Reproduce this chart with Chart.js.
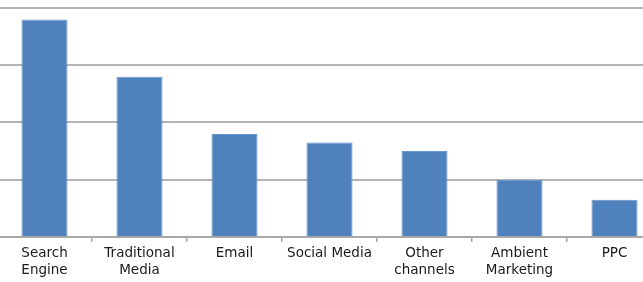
<!DOCTYPE html>
<html lang="en">
<head>
    <meta charset="UTF-8">
    <title>Marketing channels</title>
    <script src="https://cdn.jsdelivr.net/npm/chart.js"></script>
    <style>
        html, body {
            margin: 0;
            padding: 0;
            background: #ffffff;
            overflow: hidden;
        }

        #wrap {
            position: absolute;
            left: -3px;
            top: 0;
            width: 665px;
            height: 282px;
        }
    </style>
</head>
<body>
    <div id="wrap">
        <canvas id="barChart" width="665" height="282"></canvas>
    </div>

    <script>
        // data
        const categories = [
            ['Search', 'Engine'],
            ['Traditional', 'Media'],
            'Email',
            'Social Media',
            ['Other', 'channels'],
            ['Ambient', 'Marketing'],
            'PPC'
        ];
        const values = [38, 28, 18, 16.5, 15, 10, 6.5];
        const yMin = 0;
        const yMax = 40;
        const yStep = 10;

        const ctx = document.getElementById('barChart').getContext('2d');
        new Chart(ctx, {
            type: 'bar',
            data: {
                labels: categories,
                datasets: [{
                    data: values,
                    backgroundColor: '#4f81bd',
                    borderColor: '#6b96cb',
                    borderWidth: 1,
                    categoryPercentage: 1,
                    barPercentage: 0.485
                }]
            },
            options: {
                responsive: false,
                animation: false,
                layout: {
                    padding: { top: 8, bottom: 0, left: 0, right: 0 }
                },
                plugins: {
                    legend: { display: false },
                    tooltip: { enabled: false }
                },
                scales: {
                    x: {
                        grid: {
                            offset: true,
                            drawOnChartArea: false,
                            drawTicks: true,
                            tickLength: 5,
                            color: '#a4a4a4',
                            lineWidth: 1.5
                        },
                        border: { color: '#a4a4a4', width: 1.5 },
                        ticks: {
                            autoSkip: false,
                            maxRotation: 0,
                            padding: 3,
                            color: '#1a1a1a',
                            font: { family: 'DejaVu Sans', size: 13.5, lineHeight: 1.26 }
                        }
                    },
                    y: {
                        min: yMin,
                        max: yMax,
                        ticks: { display: false, stepSize: yStep },
                        grid: {
                            drawTicks: false,
                            color: '#b4b4b4',
                            lineWidth: 2
                        },
                        border: { display: false }
                    }
                }
            }
        });
    </script>
</body>
</html>
